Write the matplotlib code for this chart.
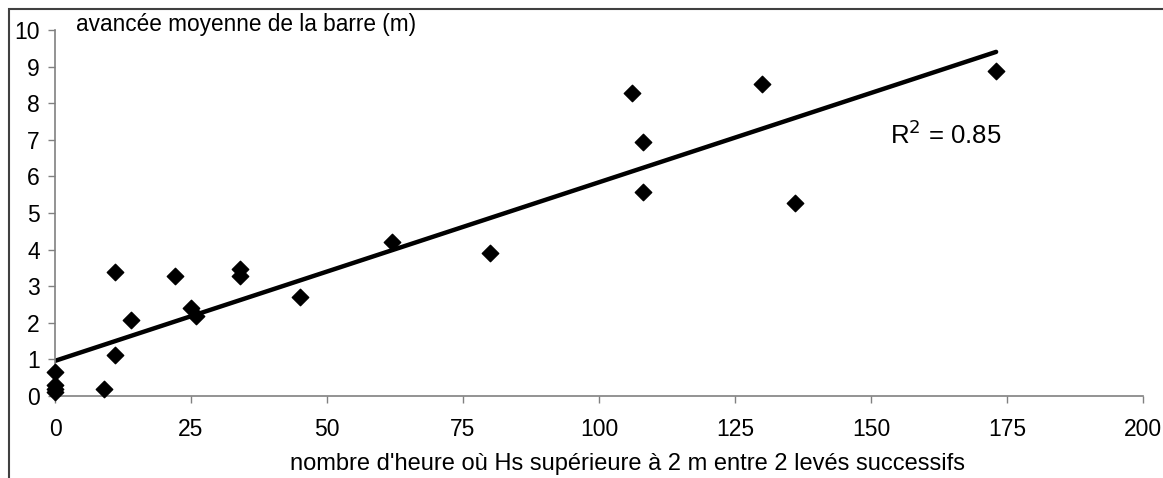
import numpy as np
import matplotlib
matplotlib.use("Agg")
import matplotlib.pyplot as plt
from matplotlib.patches import Rectangle

plt.rcParams["font.family"] = ["Liberation Sans", "DejaVu Sans"]

# données
heures = [0, 0, 0, 0, 9, 11, 11, 14, 22, 25, 26, 34, 34, 45, 62, 80,
          106, 108, 108, 130, 136, 173]
avancee = [0.1, 0.2, 0.3, 0.65, 0.18, 1.12, 3.4, 2.08, 3.27, 2.4, 2.18, 3.48, 3.28, 2.7, 4.2, 3.9,
           8.29, 6.94, 5.58, 8.52, 5.28, 8.89]
# droite de tendance (ordonnée à l'origine, pente)
tendance = [0.96, 0.0488]
r2_txt = "R$^2$ = 0.85"
xticks = [0, 25, 50, 75, 100, 125, 150, 175, 200]
yticks = list(range(0, 11))

W, H = 1163, 478
fig = plt.figure(figsize=(W / 100, H / 100), dpi=100)
ax = fig.add_axes([55 / W, 1 - 396 / H, (1143 - 55) / W, (396 - 30) / H])

ax.scatter(heures, avancee, marker="D", s=70, color="black", zorder=3, clip_on=False)
xl = np.array([0, max(heures)])
ax.plot(xl, tendance[0] + tendance[1] * xl, color="black", lw=3.2, solid_capstyle="round", zorder=2)

ax.set_xlim(0, 200)
ax.set_ylim(0, 10)
ax.set_xticks(xticks)
ax.set_yticks(yticks)
for s in ["top", "right"]:
    ax.spines[s].set_visible(False)
for s in ["left", "bottom"]:
    ax.spines[s].set_color("#808080")
    ax.spines[s].set_linewidth(1.2)
ax.tick_params(axis="both", direction="out", length=5, width=1, color="#808080", labelsize=16.5)
ax.tick_params(axis="x", pad=11)
ax.tick_params(axis="y", pad=6)
ax.patch.set_visible(False)

ax.text(890 / W, 1 - 135 / H, r2_txt, transform=fig.transFigure, fontsize=18.5, va="center", ha="left")
fig.text(76 / W, 1 - 24 / H, "avancée moyenne de la barre (m)", fontsize=16.3, va="center", ha="left")
fig.text(628 / W, 1 - 464 / H, "nombre d'heure où Hs supérieure à 2 m entre 2 levés successifs",
         fontsize=17, va="center", ha="center")

# cadre du graphique (seuls les bords gauche et haut sont visibles)
fig.patches.append(Rectangle((9 / W, -0.1), 1.2, 1.1 - 9 / H, transform=fig.transFigure,
                             fill=False, edgecolor="#404040", lw=1.5))

fig.savefig("out.png", dpi=100)
